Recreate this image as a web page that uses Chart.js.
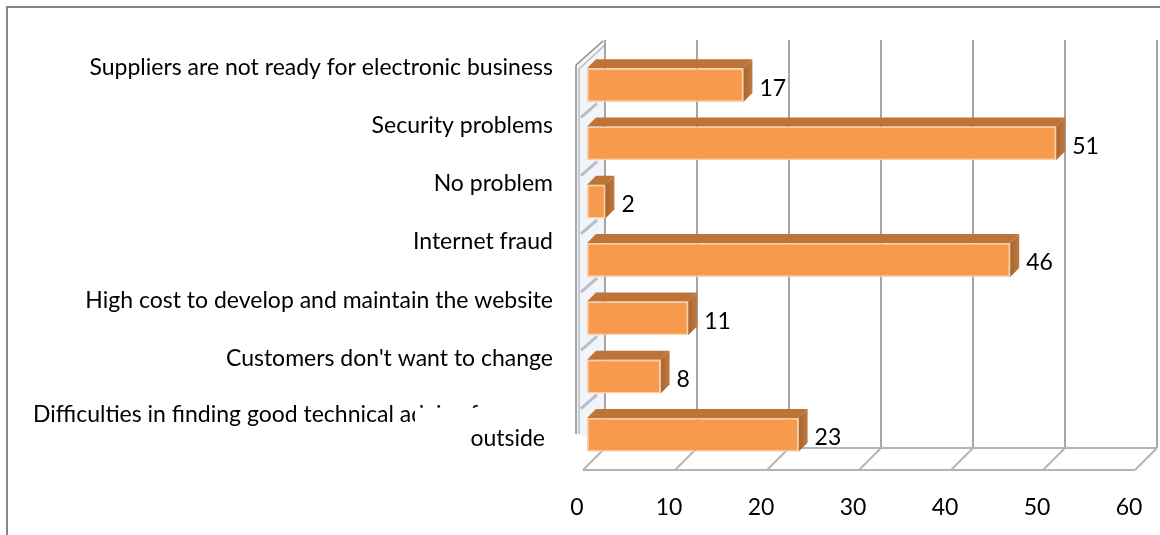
<!DOCTYPE html>
<html>
<head>
<meta charset="utf-8">
<script src="https://cdn.jsdelivr.net/npm/chart.js@4.4.0/dist/chart.umd.min.js"></script>
<style>
  html, body { margin: 0; padding: 0; background: #fff; }
</style>
</head>
<body>
<canvas id="graphicProblems" width="1160" height="535"></canvas>
<script>
// Problems reported with electronic business (number of answers)
const categories = [
  ["Suppliers are not ready for electronic business"],
  ["Security problems"],
  ["No problem"],
  ["Internet fraud"],
  ["High cost to develop and maintain the website"],
  ["Customers don't want to change"],
  ["Difficulties in finding good technical advice from", "outside"]
];
const answers = [17, 51, 2, 46, 11, 8, 23];
const xTicks = [0, 10, 20, 30, 40, 50, 60];

const FONT_SIZE = 23;
const FONT = FONT_SIZE + "px Lato";
const DEPTH = 18;  // bar plane -> back wall
const FRONT = 4;   // bar plane -> front edge of the floor
const BAR_D = 9;   // depth of each bar

function line(ctx, x1, y1, x2, y2) {
  ctx.beginPath();
  ctx.moveTo(x1, y1);
  ctx.lineTo(x2, y2);
  ctx.stroke();
}

function poly(ctx, pts) {
  ctx.beginPath();
  pts.forEach((p, i) => (i ? ctx.lineTo(p[0], p[1]) : ctx.moveTo(p[0], p[1])));
  ctx.closePath();
  ctx.fill();
}

// walls, floor and grid of the 3d box
const box3d = {
  id: "box3d",
  beforeDraw(chart) {
    const ctx = chart.ctx;
    const { top, bottom } = chart.chartArea;
    const xs = chart.scales.x, ys = chart.scales.y;
    const wallTop = top + 2, floor = bottom + 2;
    const x0 = xs.getPixelForValue(0), x1 = xs.getPixelForValue(60);
    ctx.save();

    // outer frame
    ctx.strokeStyle = "#858585";
    ctx.lineWidth = 2;
    ctx.beginPath();
    ctx.moveTo(7, 535);
    ctx.lineTo(7, 7);
    ctx.lineTo(1160, 7);
    ctx.stroke();

    // side wall
    ctx.fillStyle = "rgba(228,234,243,0.5)";
    poly(ctx, [[x0 - 11, wallTop + 6], [x0 + DEPTH - 2, wallTop - DEPTH], [x0 + DEPTH, wallTop - DEPTH],
               [x0 + DEPTH, floor - DEPTH], [x0 - 8, floor - 32], [x0 - 11, floor - 32]]);
    ctx.strokeStyle = "#8c8c8c";
    ctx.lineWidth = 1.5;
    line(ctx, x0 - 11, wallTop + 7, x0 - 11, floor - 32);
    line(ctx, x0 - 11, wallTop + 7, x0 + DEPTH - 2, wallTop - DEPTH + 1);
    ctx.strokeStyle = "#b9bec6";
    line(ctx, x0 - 8, wallTop + 11, x0 - 8, floor - 32);
    line(ctx, x0 - 8, wallTop + 11, x0 + DEPTH, wallTop - DEPTH + 5);

    // category marks on the side wall
    ctx.strokeStyle = "rgba(170,178,190,0.8)";
    ctx.lineWidth = 3;
    for (let i = 0; i < categories.length - 1; i++) {
      const b = (ys.getPixelForValue(i) + ys.getPixelForValue(i + 1)) / 2;
      line(ctx, x0 - 6, b + 3, x0 + 10, b - 11);
    }

    // back wall gridlines
    ctx.strokeStyle = "#8a8a8a";
    ctx.lineWidth = 1.5;
    xTicks.forEach(v => {
      const px = xs.getPixelForValue(v) + DEPTH;
      line(ctx, px, wallTop - DEPTH, px, floor - DEPTH);
    });

    // floor
    ctx.strokeStyle = "#b5b5b5";
    ctx.lineWidth = 2;
    line(ctx, x0 - FRONT, floor + FRONT, x1 - FRONT, floor + FRONT);
    line(ctx, x0 + DEPTH, floor - DEPTH, x1 + DEPTH, floor - DEPTH);
    xTicks.forEach(v => {
      const px = xs.getPixelForValue(v);
      line(ctx, px - FRONT, floor + FRONT, px + DEPTH, floor - DEPTH);
    });
    ctx.restore();
  },

  // top and side faces of the bars
  beforeDatasetsDraw(chart) {
    const ctx = chart.ctx;
    ctx.save();
    chart.getDatasetMeta(0).data.forEach(bar => {
      const { x, y, base, height } = bar.getProps(["x", "y", "base", "height"], true);
      const t = y - height / 2, b = y + height / 2;
      ctx.fillStyle = "#bf7437";
      poly(ctx, [[base, t], [base + BAR_D, t - BAR_D], [x + BAR_D, t - BAR_D], [x, t]]);
      const g = ctx.createLinearGradient(x, 0, x + BAR_D, 0);
      g.addColorStop(0, "#a8652f");
      g.addColorStop(1, "#c07a40");
      ctx.fillStyle = g;
      poly(ctx, [[x, t], [x + BAR_D, t - BAR_D], [x + BAR_D, b - BAR_D], [x, b]]);
    });
    ctx.restore();
  },

  afterDraw(chart) {
    const ctx = chart.ctx;
    const { left } = chart.chartArea;
    const ys = chart.scales.y;
    ctx.save();
    ctx.font = FONT;
    ctx.fillStyle = "#000";
    ctx.textBaseline = "middle";

    // value labels
    ctx.textAlign = "left";
    chart.getDatasetMeta(0).data.forEach((bar, i) => {
      const { x, y } = bar.getProps(["x", "y"], true);
      ctx.fillText(String(answers[i]), x + BAR_D + 7, y + 3);
    });

    // category labels, sitting a little above their bars
    categories.forEach((lines, i) => {
      const yc = ys.getPixelForValue(i) - 18;
      if (lines.length === 1) {
        ctx.textAlign = "right";
        ctx.fillText(lines[0], left - 34, yc);
        return;
      }
      // wrapped label: the tail of the first line is hidden behind the second line's box
      const cut = left - 172;
      ctx.save();
      ctx.beginPath();
      ctx.rect(0, 0, cut, 535);
      ctx.rect(cut, 0, left - cut, yc - 9);
      ctx.clip();
      ctx.textAlign = "left";
      ctx.fillText(lines[0], 33, yc - 2);
      ctx.restore();
      ctx.textAlign = "right";
      ctx.fillText(lines[1], left - 42, yc + 22);
    });
    ctx.restore();
  }
};

const ctx = document.getElementById("graphicProblems").getContext("2d");

new Chart(ctx, {
  type: "bar",
  data: {
    labels: categories,
    datasets: [{
      label: "Answers",
      data: answers,
      backgroundColor: "#f79a4d",
      borderColor: "#fbcfa6",
      borderWidth: 1.5,
      borderSkipped: false,
      categoryPercentage: 1,
      barPercentage: 0.58
    }]
  },
  options: {
    indexAxis: "y",
    responsive: false,
    animation: false,
    devicePixelRatio: 1,
    layout: { padding: { left: 587, right: 21, top: 56, bottom: 0 } },
    plugins: {
      legend: { display: false },
      tooltip: { enabled: false }
    },
    scales: {
      x: {
        min: 0,
        max: 60,
        afterBuildTicks: scale => { scale.ticks = xTicks.map(v => ({ value: v })); },
        afterFit: scale => {
          scale.height = 71;
          scale.paddingLeft = 0;
          scale.paddingRight = 0;
        },
        grid: { display: false },
        border: { display: false },
        ticks: {
          font: { family: "Lato", size: FONT_SIZE },
          color: "#000",
          padding: 22,
          labelOffset: -10,
          maxRotation: 0
        }
      },
      y: { display: false }
    }
  },
  plugins: [box3d]
});
</script>
</body>
</html>
